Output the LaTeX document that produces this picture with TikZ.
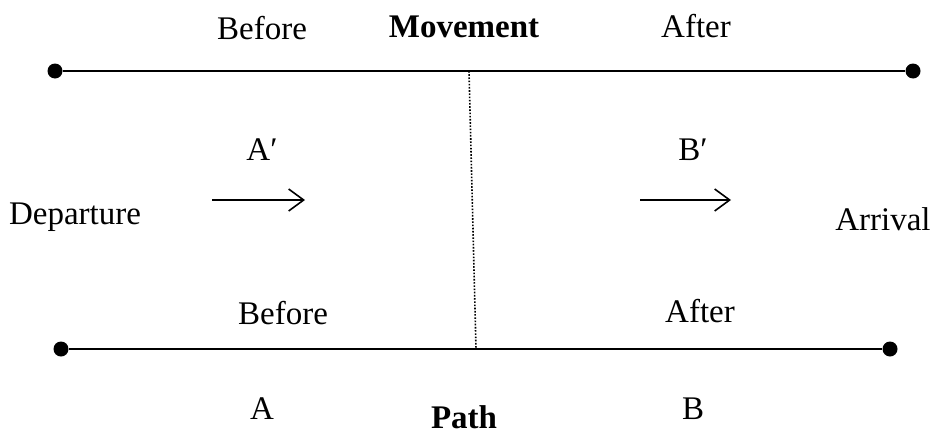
\documentclass[tikz,border=0pt]{standalone}
\usepackage{fontspec}
\setmainfont{Liberation Serif}
\usetikzlibrary{arrows.meta}

\begin{document}
\begin{tikzpicture}[
      x = 1pt, y = -1pt, % pixel grid of the sketch
      > = {Straight Barb[length=15pt, width=22pt]}, % arrow head style
      semithick, % line style
      every node/.style = {font = \fontsize{33}{40}\selectfont, inner sep = 0pt},
    ]

    \tikzset{
      endpoint/.style = {circle, fill = black, minimum size = 15pt, inner sep = 0pt},
      level/.style = {line width = 1.6pt},
      split/.style = {line width = 1.6pt, dash pattern = on 1.6pt off 1.6pt},
      move/.style = {->, line width = 1.6pt}
    }

    \useasboundingbox (0, 0) rectangle (933, 434);

    % the two lines
    \node[endpoint] (m1) at (55, 71) {};
    \node[endpoint] (m2) at (913, 71) {};
    \node[endpoint] (p1) at (61, 349) {};
    \node[endpoint] (p2) at (890, 349) {};
    \coordinate (mc) at (469, 71);
    \coordinate (pc) at (476, 349);

    \draw[level] (m1) -- (m2);
    \draw[level] (p1) -- (p2);
    \draw[split] (mc) -- (pc);

    % labels
    \node (mb) at (262, 28) {Before};
    \node (mt) at (464, 27) {\textbf{Movement}};
    \node (ma) at (696, 26) {After};
    \node (ap) at (262, 150) {A′};
    \node (bp) at (693, 150) {B′};
    \node (dep) at (75, 217) {Departure};
    \node (arr) at (883, 219) {Arrival};
    \node (pb) at (283, 313) {Before};
    \node (pa) at (700, 311) {After};
    \node (a) at (262, 409) {A};
    \node (pt) at (464, 417) {\textbf{Path}};
    \node (b) at (693, 409) {B};

    % arrows
    \coordinate (a1) at (212, 200);
    \coordinate (a2) at (305, 200);
    \coordinate (b1) at (640, 200);
    \coordinate (b2) at (731, 200);
    \draw[move] (a1) -- (a2);
    \draw[move] (b1) -- (b2);

  \end{tikzpicture}
\end{document}
